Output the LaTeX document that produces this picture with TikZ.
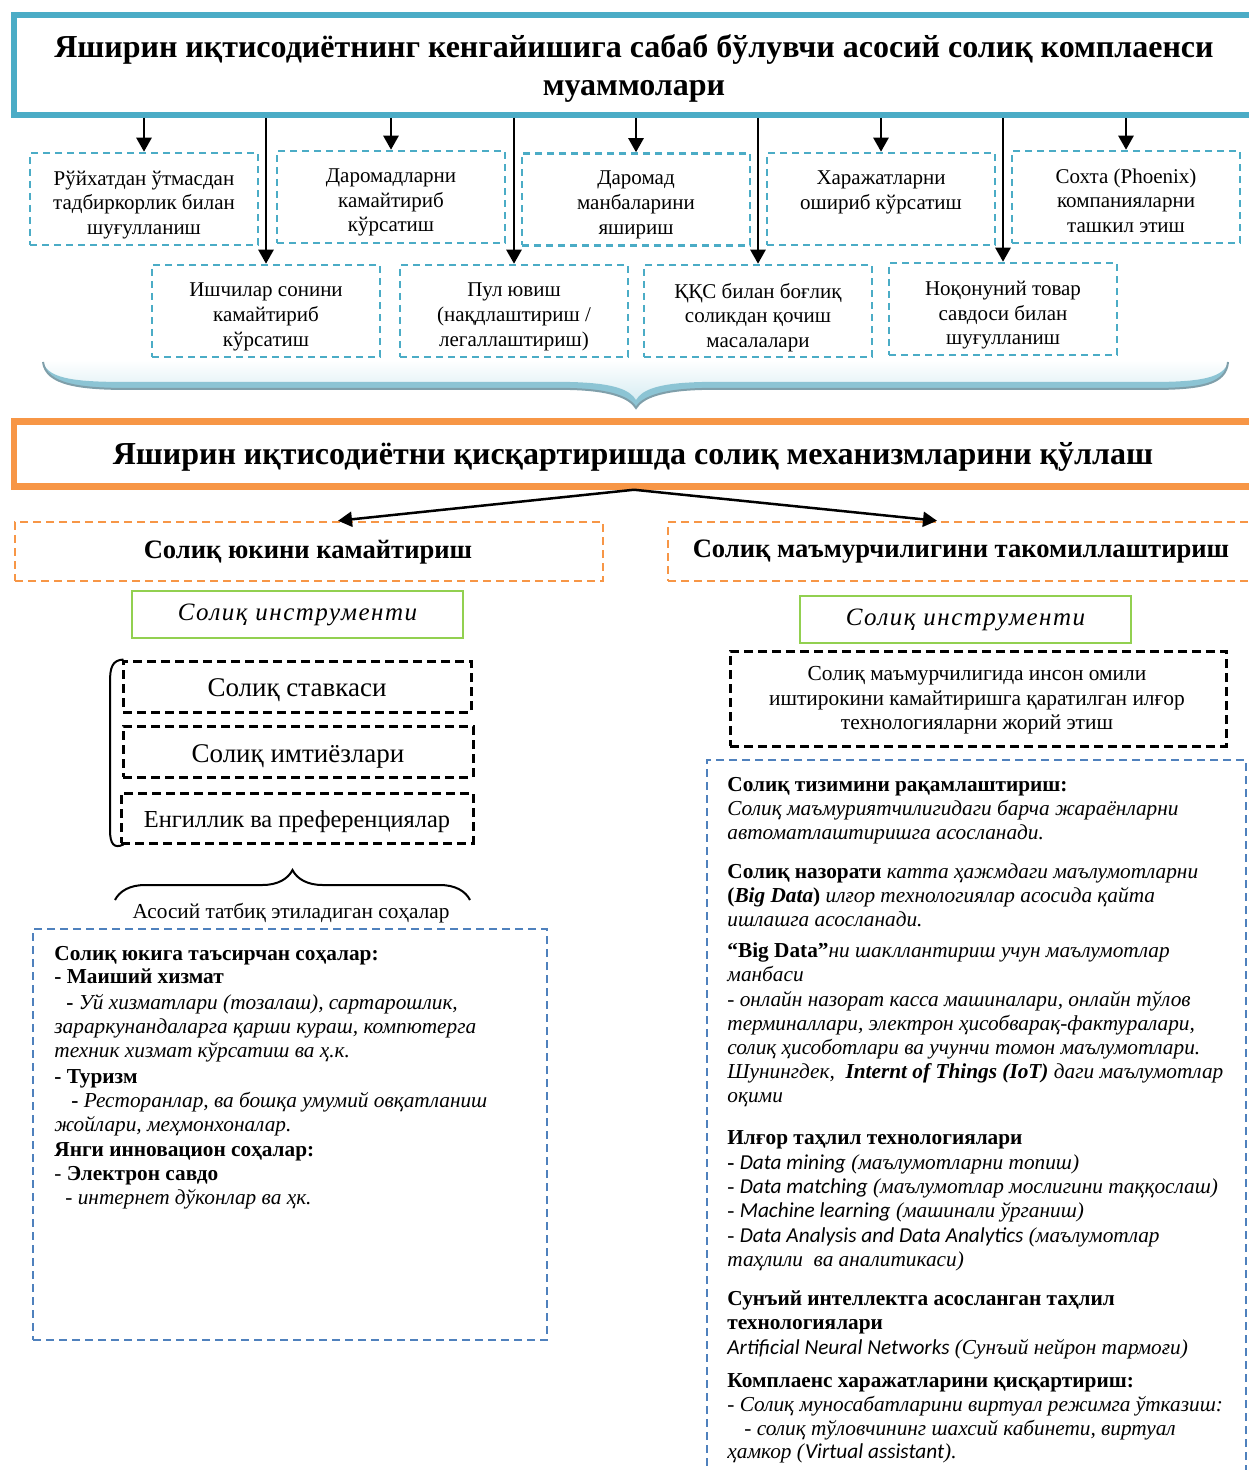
\documentclass[tikz,border=0pt]{standalone}
\usepackage{fontspec}
\setmainfont{Liberation Serif}
\newfontfamily\calib{Carlito}
\usetikzlibrary{arrows.meta,positioning,decorations.pathreplacing}
\definecolor{cteal}{HTML}{4BACC6}
\definecolor{corange}{HTML}{F79646}
\definecolor{cgreen}{HTML}{92D050}
\definecolor{cblue}{HTML}{4F81BD}
\definecolor{cband}{HTML}{8CC4D4}
\definecolor{cbandedge}{HTML}{7F9FAA}
\newcommand{\ci}[1]{{\calib\itshape #1}}
\begin{document}
\begin{tikzpicture}[x=0.5pt,y=-0.5pt,
  arr/.style={line width=1.25pt,-{Triangle[length=7pt,width=7.5pt]}},
  probbox/.style={draw=cteal,line width=1.25pt,dash pattern=on 3.5pt off 2.5pt,minimum width=114pt,minimum height=46pt,inner sep=0pt},
  probtext/.style={align=center,inner sep=0pt,font=\fontsize{10.5}{12.3}\selectfont},
  orbox/.style={draw=corange,line width=1.25pt,dash pattern=on 4pt off 2.5pt,inner sep=0pt},
  grbox/.style={draw=cgreen,line width=1pt,inner sep=0pt,minimum width=165.5pt,minimum height=23.5pt,
    font=\itshape\fontsize{12.5}{14}\selectfont\addfontfeatures{LetterSpace=6}},
  blkbox/.style={draw=black,line width=1.5pt,dash pattern=on 4.5pt off 2.5pt,inner sep=0pt},
  bluebox/.style={draw=cblue,line width=1.4pt,dash pattern=on 4pt off 2.5pt,inner sep=0pt},
  plain/.style={inner sep=0pt},
  body/.style={anchor=base west,inner sep=0pt,font=\fontsize{10.65}{12}\selectfont}
]
\useasboundingbox (0,0) rectangle (1248,1470);

% ---------- big brace (drawn first, behind everything) ----------
\shade[top color=white,bottom color=cteal!22]
  (43,360) -- (43,362) .. controls (48,380) and (80,382) .. (130,382) -- (570,382)
  .. controls (615,383) and (630,390) .. (636,400)
  .. controls (642,390) and (657,383) .. (702,382) -- (1150,382)
  .. controls (1200,382) and (1224,378) .. (1228,362) -- (1228,360) -- cycle;
\fill[cband]
  (43,362) .. controls (48,380) and (80,382) .. (130,382) -- (570,382)
  .. controls (615,383) and (630,390) .. (636,400)
  .. controls (642,390) and (657,383) .. (702,382) -- (1150,382)
  .. controls (1200,382) and (1224,378) .. (1228,362)
  .. controls (1226,385) and (1200,389) .. (1150,389) -- (702,389)
  .. controls (660,390) and (642,398) .. (636,408)
  .. controls (630,398) and (612,390) .. (570,389) -- (130,389)
  .. controls (80,389) and (46,385) .. (43,362) -- cycle;
\draw[cbandedge,line width=1pt]
  (43,362) .. controls (46,385) and (80,389) .. (130,389) -- (570,389)
  .. controls (612,390) and (630,398) .. (636,408)
  .. controls (642,398) and (660,390) .. (702,389) -- (1150,389)
  .. controls (1200,389) and (1226,385) .. (1228,362);

% ---------- title 1 ----------
\node[draw=cteal,line width=3pt,minimum width=620pt,minimum height=50pt,inner sep=0pt] (title) at (634,65) {};
\node[plain,align=center,font=\bfseries\fontsize{16}{19}\selectfont] (titlet) at (634,69)
  {Яширин иқтисодиётнинг кенгайишига сабаб бўлувчи асосий солиқ комплаенси\\муаммолари};

% ---------- problem boxes ----------
\node[probbox] (b1) at (144,199) {};
\node[probbox] (b2) at (391,197) {};
\node[probbox] (b3) at (636,199.5) {};
\node[probbox] (b4) at (881,199) {};
\node[probbox] (b5) at (1126,197) {};
\node[probbox] (c1) at (266,311) {};
\node[probbox] (c2) at (514,311) {};
\node[probbox] (c3) at (758,311) {};
\node[probbox] (c4) at (1003,309) {};

\node[probtext,anchor=north] (tb1) at ([yshift=-9.3pt]b1.north) {Рўйхатдан ўтмасдан\\тадбиркорлик билан\\шуғулланиш};
\node[probtext,anchor=north] (tb2) at ([yshift=-9.3pt]b2.north) {Даромадларни\\камайтириб\\кўрсатиш};
\node[probtext,anchor=north] (tb3) at ([yshift=-9.3pt]b3.north) {Даромад\\манбаларини\\яшириш};
\node[probtext,anchor=north] (tb4) at ([yshift=-9.3pt]b4.north) {Харажатларни\\ошириб кўрсатиш};
\node[probtext,anchor=north] (tb5) at ([yshift=-9.3pt]b5.north) {Сохта (Phoenix)\\компанияларни\\ташкил этиш};
\node[probtext,anchor=north] (tc1) at ([yshift=-9.5pt]c1.north) {Ишчилар сонини\\камайтириб\\кўрсатиш};
\node[probtext,anchor=north] (tc2) at ([yshift=-9.5pt]c2.north) {Пул ювиш\\(нақдлаштириш /\\легаллаштириш)};
\node[probtext,anchor=north] (tc3) at ([yshift=-9.5pt]c3.north) {ҚҚС билан боғлиқ\\соликдан қочиш\\масалалари};
\node[probtext,anchor=north] (tc4) at ([yshift=-9.5pt]c4.north) {Ноқонуний товар\\савдоси билан\\шуғулланиш};

\foreach \n in {b1,b2,b3,b4,b5,c1,c2,c3,c4}
  \draw[arr] (\n.north |- title.south) -- (\n.north);

% ---------- title 2 ----------
\node[draw=corange,line width=3.25pt,minimum width=620pt,minimum height=32.5pt,inner sep=0pt] (title2) at (634,454) {};
\node[plain,font=\bfseries\fontsize{16}{19}\selectfont] (title2t) at (633,457)
  {Яширин иқтисодиётни қисқартиришда солиқ механизмларини қўллаш};

% ---------- two branches ----------
\node[orbox,minimum width=294pt,minimum height=29.5pt] (ol) at (309,551.5) {};
\node[plain,font=\bfseries\fontsize{13.3}{15}\selectfont] (olt) at (308,552) {Солиқ юкини камайтириш};
\node[orbox,minimum width=296pt,minimum height=29.5pt] (or) at (964,551.5) {};
\node[plain,font=\bfseries\fontsize{13.3}{15}\selectfont] (ort) at (961,552) {Солиқ маъмурчилигини такомиллаштириш};
\draw[arr] (title2.south) -- ([xshift=14.5pt]ol.north);
\draw[arr] (title2.south) -- ([xshift=-13.5pt]or.north);

\node[grbox] (gl) at (297.5,614.5) {Солиқ инструменти};
\node[grbox] (gr) at (965.5,619.5) {Солиқ инструменти};

% ---------- left instruments ----------
\node[blkbox,minimum width=174pt,minimum height=25.5pt] (d1) at (297,686.5) {};
\node[blkbox,minimum width=175pt,minimum height=25.5pt] (d2) at (298,751.5) {};
\node[blkbox,minimum width=176pt,minimum height=25pt] (d3) at (297,818) {};
\node[plain,font=\fontsize{13.5}{15}\selectfont] (d1t) at (297,690) {Солиқ ставкаси};
\node[plain,font=\fontsize{13.5}{15}\selectfont] (d2t) at (298,756) {Солиқ имтиёзлари};
\node[plain,font=\fontsize{12.2}{14}\selectfont] (d3t) at (297,822) {Енгиллик ва преференциялар};
\draw[line width=1pt] ([xshift=1pt]d1.north west) .. controls (112,660) and (110,668) .. (110,682)
  -- (110,830) .. controls (110,844) and (114,849) .. ([xshift=2pt]d3.south west);

\coordinate (brl) at (115,900);
\coordinate (brr) at (470,900);
\draw[line width=1pt,decorate,decoration={brace,amplitude=15pt}] (brl) -- (brr);
\node[anchor=base,inner sep=0pt,font=\fontsize{10.65}{12}\selectfont] (areas) at (291,918) {Асосий татбиқ этиладиган соҳалар};

% ---------- left blue box ----------
\node[bluebox,minimum width=257pt,minimum height=205.5pt] (bl) at (290,1134.5) {};
\node[body] (l1) at (54,960) {\textbf{Солиқ юкига таъсирчан соҳалар:}};
\node[body] (l2) at (54,983) {\textbf{- Маиший хизмат}};
\node[body] (l3) at (66,1009) {\textbf{-} \textit{Уй хизматлари (тозалаш), сартарошлик,}};
\node[body] (l4) at (54,1033) {\textit{зараркунандаларга қарши кураш, компютерга}};
\node[body] (l5) at (54,1057) {\textit{техник хизмат кўрсатиш ва ҳ.к.}};
\node[body] (l6) at (54,1083) {\textbf{- Туризм}};
\node[body] (l7) at (71,1107) {\textbf{-} \textit{Ресторанлар, ва бошқа умумий овқатланиш}};
\node[body] (l8) at (54,1131) {\textit{жойлари, меҳмонхоналар.}};
\node[body] (l9) at (54,1156) {\textbf{Янги инновацион соҳалар:}};
\node[body] (l10) at (54,1180) {- \textbf{Электрон савдо}};
\node[body] (l11) at (65,1204) {\textit{- интернет дўконлар ва ҳк.}};

% ---------- right black box ----------
\node[blkbox,minimum width=248pt,minimum height=47.5pt] (rb) at (978,698.5) {};
\node[plain,align=center,font=\fontsize{10.7}{12.2}\selectfont] (rbt) at (977,700.5)
  {Солиқ маъмурчилигида инсон омили\\иштирокини камайтиришга қаратилган илғор\\технологияларни жорий этиш};

% ---------- right blue box ----------
\node[bluebox,minimum width=269.5pt,minimum height=360pt] (br) at (976.5,1120) {};
\node[body] (r1) at (727,791) {\textbf{Солиқ тизимини рақамлаштириш:}};
\node[body] (r2) at (727,815) {\textit{Солиқ маъмуриятчилигидаги барча жараёнларни}};
\node[body] (r3) at (727,839) {\textit{автоматлаштиришга асосланади.}};
\node[body] (r4) at (727,878) {\textbf{Солиқ назорати} \textit{катта ҳажмдаги маълумотларни}};
\node[body] (r5) at (727,902) {\textbf{(\textit{Big Data})} \textit{илғор технологиялар асосида қайта}};
\node[body] (r6) at (727,926) {\textit{ишлашга асосланади.}};
\node[body] (r7) at (727,957) {\textbf{“Big Data”}\textit{ни шакллантириш учун маълумотлар}};
\node[body] (r8) at (727,981) {\textit{манбаси}};
\node[body] (r9) at (727,1006) {\textit{- онлайн назорат касса машиналари, онлайн тўлов}};
\node[body] (r10) at (727,1030) {\textit{терминаллари, электрон ҳисобварақ-фактуралари,}};
\node[body] (r11) at (727,1054) {\textit{солиқ ҳисоботлари ва учунчи томон маълумотлари.}};
\node[body] (r12) at (727,1078) {\textit{Шунингдек,\ \ \textbf{Internt of Things (IoT)} даги маълумотлар}};
\node[body] (r13) at (727,1102) {\textit{оқими}};
\node[body] (r14) at (727,1144) {\textbf{Илғор таҳлил технологиялари}};
\node[body] (r15) at (727,1169) {\textbf{-} \ci{Data mining} \textit{(маълумотларни топиш)}};
\node[body] (r16) at (727,1193) {- \ci{Data matching} \textit{(маълумотлар мослигини таққослаш)}};
\node[body] (r17) at (727,1217) {- \ci{Machine learning} \textit{(машинали ўрганиш)}};
\node[body] (r18) at (727,1242) {- \ci{Data Analysis and Data Analytics} \textit{(маълумотлар}};
\node[body] (r19) at (727,1266) {\textit{таҳлили\ \ ва аналитикаси)}};
\node[body] (r20) at (727,1305) {\textbf{Сунъий интеллектга асосланган таҳлил}};
\node[body] (r21) at (727,1329) {\textbf{технологиялари}};
\node[body] (r22) at (727,1354) {\ci{Artificial Neural Networks} \textit{(Сунъий нейрон тармоғи)}};
\node[body] (r23) at (727,1387) {\textbf{Комплаенс харажатларини қисқартириш:}};
\node[body] (r24) at (727,1411) {\textit{- Солиқ муносабатларини виртуал режимга ўтказиш:}};
\node[body] (r25) at (744,1435) {\textit{- солиқ тўловчининг шахсий кабинети, виртуал}};
\node[body] (r26) at (727,1458) {\textit{ҳамкор (}\ci{Virtual assistant}\textit{).}};
\end{tikzpicture}
\end{document}
